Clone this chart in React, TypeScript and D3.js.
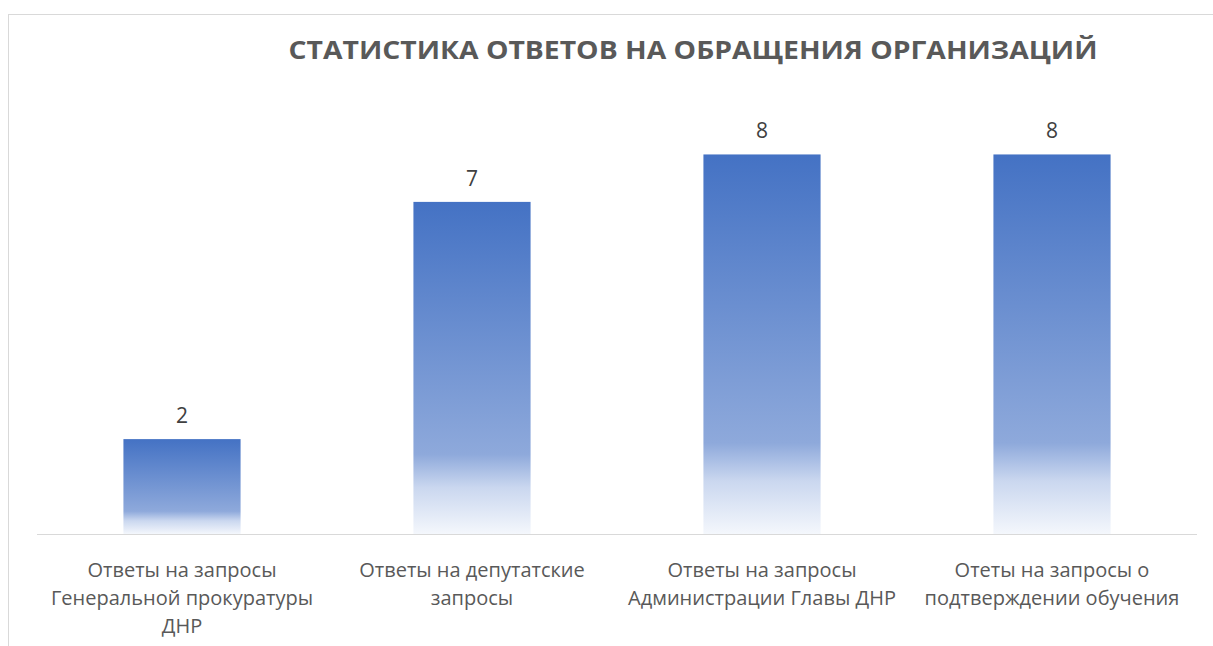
import React, { useEffect, useRef } from 'react';
import * as d3 from 'd3';

const categories = [
    ['Ответы на запросы', 'Генеральной прокуратуры', 'ДНР'],
    ['Ответы на депутатские', 'запросы'],
    ['Ответы на запросы', 'Администрации Главы ДНР'],
    ['Отеты на запросы о', 'подтверждении обучения'],
];
const values = [2, 7, 8, 8];
const title = 'СТАТИСТИКА ОТВЕТОВ НА ОБРАЩЕНИЯ ОРГАНИЗАЦИЙ';

const W = 1213;
const H = 646;

const App = () => {
    const svgRef = useRef<SVGSVGElement>(null);

    useEffect(() => {
        const svg = d3.select(svgRef.current);
        svg.selectAll('*').remove();

        const margin = { left: 37, right: 16, top: 107, bottom: 112 };
        const baseY = H - margin.bottom;

        // gradient for bars
        const grad = svg.append('defs').append('linearGradient')
            .attr('id', 'barGrad')
            .attr('x1', 0).attr('y1', 0).attr('x2', 0).attr('y2', 1);
        grad.append('stop').attr('offset', 0).attr('stop-color', '#4472C4');
        grad.append('stop').attr('offset', 0.76).attr('stop-color', '#8EA9DB');
        grad.append('stop').attr('offset', 0.86).attr('stop-color', '#CAD7EF');
        grad.append('stop').attr('offset', 1).attr('stop-color', '#F4F7FC');

        // chart border
        svg.append('rect')
            .attr('x', 8.5).attr('y', 14.5)
            .attr('width', W + 20).attr('height', H + 20)
            .attr('fill', 'none')
            .attr('stroke', '#D9D9D9');

        const x = d3.scaleBand<number>()
            .domain(d3.range(values.length))
            .range([margin.left, W - margin.right])
            .paddingInner(0.596)
            .paddingOuter(0.298);

        const y = d3.scaleLinear().domain([0, 9]).range([baseY, margin.top]);

        svg.append('text')
            .attr('x', 693).attr('y', 59)
            .attr('text-anchor', 'middle')
            .attr('font-family', 'Open Sans, sans-serif')
            .attr('font-weight', 'bold')
            .attr('font-size', 25)
            .attr('fill', '#595959')
            .attr('textLength', 809)
            .attr('lengthAdjust', 'spacingAndGlyphs')
            .text(title);

        svg.selectAll('.bar')
            .data(values)
            .enter()
            .append('rect')
            .attr('class', 'bar')
            .attr('x', (d, i) => x(i)!)
            .attr('y', d => y(d))
            .attr('width', x.bandwidth())
            .attr('height', d => baseY - y(d))
            .attr('fill', 'url(#barGrad)');

        svg.append('line')
            .attr('x1', margin.left).attr('x2', W - margin.right)
            .attr('y1', baseY + 0.5).attr('y2', baseY + 0.5)
            .attr('stroke', '#D9D9D9')
            .attr('stroke-width', 1);

        svg.selectAll('.val')
            .data(values)
            .enter()
            .append('text')
            .attr('class', 'val')
            .attr('x', (d, i) => x(i)! + x.bandwidth() / 2)
            .attr('y', d => y(d) - 16)
            .attr('text-anchor', 'middle')
            .attr('font-family', 'Open Sans, sans-serif')
            .attr('font-size', 21)
            .attr('fill', '#404040')
            .text(d => d);

        const lab = svg.selectAll('.lab')
            .data(categories)
            .enter()
            .append('text')
            .attr('class', 'lab')
            .attr('text-anchor', 'middle')
            .attr('font-family', 'Open Sans, sans-serif')
            .attr('font-size', 20)
            .attr('fill', '#595959');

        lab.selectAll('tspan')
            .data((d, i) => d.map(s => ({ s, i })))
            .enter()
            .append('tspan')
            .attr('x', d => x(d.i)! + x.bandwidth() / 2)
            .attr('y', (d, j) => 577 + j * 28)
            .text(d => d.s);
    }, []);

    return (
        <svg ref={svgRef} width={W} height={H}
            style={{ position: 'absolute', left: 0, top: 0, background: '#fff' }} />
    );
};

export default App;
